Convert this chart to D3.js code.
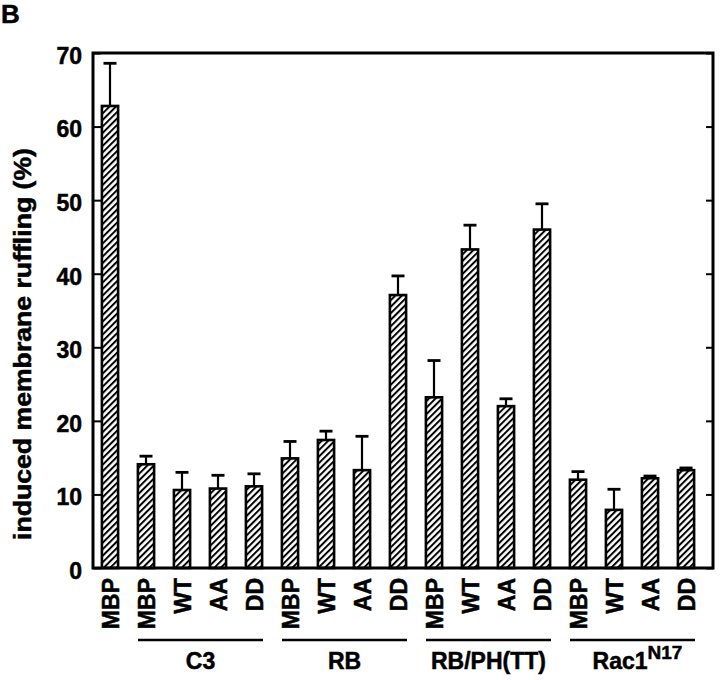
<!DOCTYPE html>
<html>
<head>
<meta charset="utf-8">
<script src="https://cdn.jsdelivr.net/npm/d3@7"></script>
<style>
  html, body { margin: 0; padding: 0; background: #fff; }
  svg { display: block; }
  text { font-family: "Liberation Sans", Arial, Helvetica, sans-serif; font-weight: bold; fill: #000; stroke: #000; stroke-width: 0.5px; }
</style>
</head>
<body>
<script>
// ---- data ----
const categories = ["MBP","MBP","WT","AA","DD","MBP","WT","AA","DD","MBP","WT","AA","DD","MBP","WT","AA","DD"];
const values     = [62.8, 14.1, 10.6, 10.8, 11.1, 14.9, 17.4, 13.3, 37.1, 23.2, 43.3, 22.0, 46.0, 12.0, 7.9, 12.2, 13.3];
const errorsUp   = [5.8, 1.1, 2.4, 1.8, 1.7, 2.3, 1.2, 4.6, 2.6, 5.0, 3.3, 1.0, 3.5, 1.1, 2.8, 0.3, 0.3];
const yTicks     = [0, 10, 20, 30, 40, 50, 60, 70];
const groupNames = ["C3", "RB", "RB/PH(TT)", "Rac1"];
const groupFirst = [1, 5, 9, 13];
const groupLast  = [4, 8, 12, 16];
const yTitle = "induced membrane ruffling (%)";
const panelLetter = "B";

// ---- layout ----
const W = 720, H = 680;
const frame = { left: 93, right: 713, top: 53, bottom: 568 };

const svg = d3.select("body").append("svg").attr("width", W).attr("height", H);

const defs = svg.append("defs");
const pat = defs.append("pattern")
  .attr("id", "hatch")
  .attr("patternUnits", "userSpaceOnUse")
  .attr("width", 4.6).attr("height", 4.6)
  .attr("patternTransform", "rotate(45)");
pat.append("rect").attr("width", 4.6).attr("height", 4.6).attr("fill", "#fff");
pat.append("line").attr("x1", 1).attr("y1", 0).attr("x2", 1).attr("y2", 4.6)
  .attr("stroke", "#000").attr("stroke-width", 2);

const x = d3.scaleBand()
  .domain(d3.range(categories.length))
  .range([92, 704])
  .paddingInner(0.55)
  .paddingOuter(0.275);

const y = d3.scaleLinear().domain([0, 70]).range([frame.bottom, frame.top]);

// error bars (upper only)
const capW = 13;
const eb = svg.append("g");
values.forEach((v, i) => {
  const cx = x(i) + x.bandwidth() / 2;
  eb.append("line").attr("x1", cx).attr("x2", cx)
    .attr("y1", y(v)).attr("y2", y(v + errorsUp[i]))
    .attr("stroke", "#000").attr("stroke-width", 2.2);
  eb.append("line").attr("x1", cx - capW / 2).attr("x2", cx + capW / 2)
    .attr("y1", y(v + errorsUp[i])).attr("y2", y(v + errorsUp[i]))
    .attr("stroke", "#000").attr("stroke-width", 2.8);
});

// bars
svg.append("g").selectAll("rect").data(values).join("rect")
  .attr("x", (d, i) => x(i))
  .attr("y", d => y(d))
  .attr("width", x.bandwidth())
  .attr("height", d => y(0) - y(d))
  .attr("fill", "url(#hatch)")
  .attr("stroke", "#000")
  .attr("stroke-width", 2.6);

// left axis (ticks inward)
const yAxisL = d3.axisLeft(y).tickValues(yTicks).tickSizeInner(-8).tickSizeOuter(0).tickPadding(12);
const gL = svg.append("g").attr("transform", `translate(${frame.left},0)`).call(yAxisL);
gL.select(".domain").remove();
gL.selectAll(".tick line").attr("stroke", "#000").attr("stroke-width", 2);
gL.selectAll(".tick text")
  .attr("font-size", 23)
  .attr("font-family", "'Liberation Sans', Arial, sans-serif")
  .attr("font-weight", "bold")
  .attr("dy", "0.45em")
  .attr("x", -11);

// right axis ticks (inward, no labels)
const yAxisR = d3.axisRight(y).tickValues(yTicks).tickSizeInner(-7).tickSizeOuter(0).tickFormat("");
const gR = svg.append("g").attr("transform", `translate(${frame.right},0)`).call(yAxisR);
gR.select(".domain").remove();
gR.selectAll(".tick line").attr("stroke", "#000").attr("stroke-width", 2);

// frame
svg.append("rect")
  .attr("x", frame.left).attr("y", frame.top)
  .attr("width", frame.right - frame.left).attr("height", frame.bottom - frame.top)
  .attr("fill", "none").attr("stroke", "#000").attr("stroke-width", 3);

// x labels (rotated)
svg.append("g").selectAll("text").data(categories).join("text")
  .attr("transform", (d, i) => `translate(${x(i) + x.bandwidth() / 2 + 0.5},578) rotate(-90)`)
  .attr("text-anchor", "end")
  .attr("dy", "0.36em")
  .attr("font-size", 23)
  .text(d => d);

// group lines + labels
const gy = 640;
groupNames.forEach((name, k) => {
  const x0 = x(groupFirst[k]) + x.bandwidth() / 2 - 8;
  const x1 = x(groupLast[k]) + x.bandwidth() / 2 + 9;
  svg.append("line").attr("x1", x0).attr("x2", x1).attr("y1", gy).attr("y2", gy)
    .attr("stroke", "#000").attr("stroke-width", 2.4);
  const t = svg.append("text")
    .attr("x", (x0 + x1) / 2 + (name === "Rac1" ? 5 : 0))
    .attr("y", 669)
    .attr("text-anchor", "middle")
    .attr("font-size", 23);
  t.append("tspan").text(name);
  if (name === "Rac1") {
    t.append("tspan").attr("font-size", 19).attr("dy", -10).text("N17");
  }
});

// y title
svg.append("text")
  .attr("transform", `translate(31,344) rotate(-90)`)
  .attr("text-anchor", "middle")
  .attr("font-size", 23)
  .attr("textLength", 392)
  .attr("lengthAdjust", "spacingAndGlyphs")
  .text(yTitle);

// panel letter
svg.append("text").attr("x", 1).attr("y", 23).attr("font-size", 26).text(panelLetter);
</script>
</body>
</html>
